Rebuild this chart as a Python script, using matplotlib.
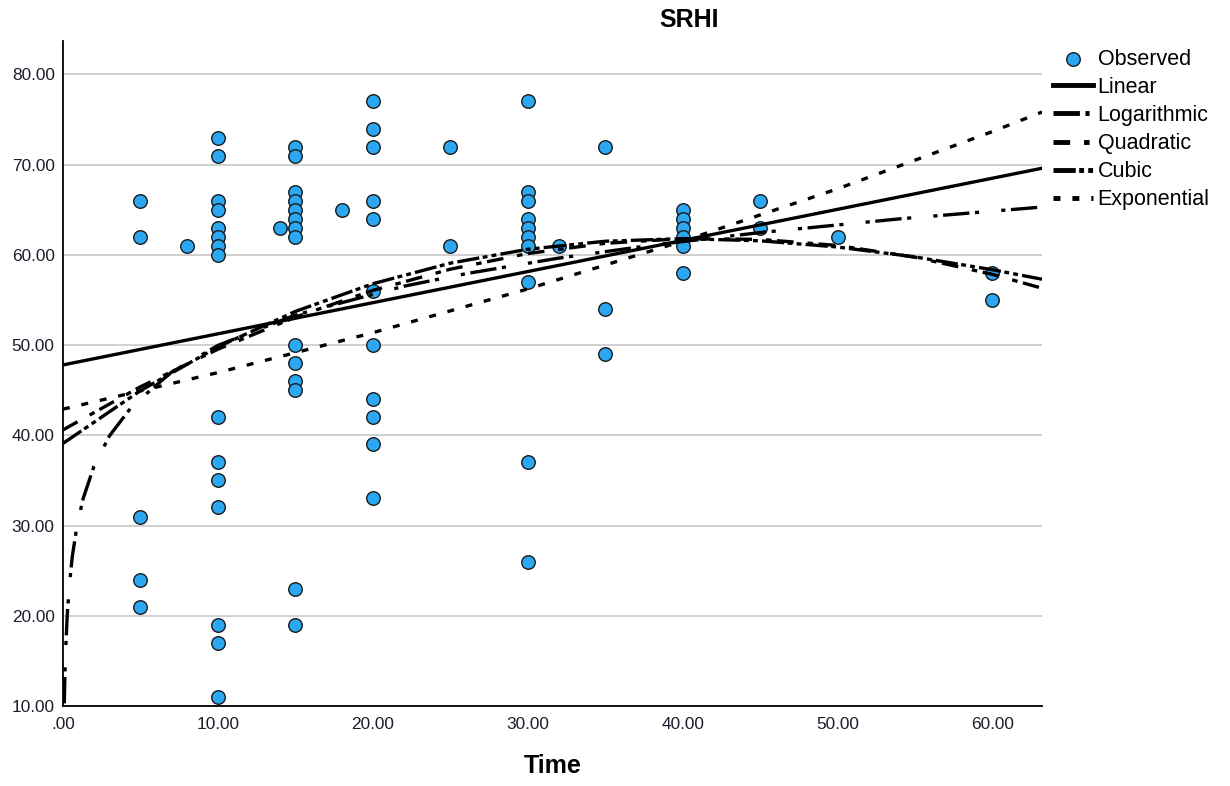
import matplotlib
matplotlib.use("Agg")
import matplotlib.pyplot as plt

plt.rcParams['font.family'] = ['Liberation Sans', 'DejaVu Sans']
plt.rcParams['lines.scale_dashes'] = False

# observed values (Time, SRHI)
obs_time = [5, 5, 5, 5, 5,
            8,
            10, 10, 10, 10, 10, 10, 10, 10, 10, 10, 10, 10, 10, 10, 10,
            14,
            15, 15, 15, 15, 15, 15, 15, 15, 15, 15, 15, 15, 15, 15,
            18,
            20, 20, 20, 20, 20, 20, 20, 20, 20, 20, 20,
            25, 25,
            30, 30, 30, 30, 30, 30, 30, 30, 30, 30,
            32,
            35, 35, 35,
            40, 40, 40, 40, 40, 40,
            45, 45,
            50,
            60, 60]
obs_srhi = [66, 62, 31, 24, 21,
            61,
            73, 71, 66, 65, 63, 62, 61, 60, 42, 37, 35, 32, 19, 17, 11,
            63,
            72, 71, 67, 66, 65, 64, 63, 62, 50, 48, 46, 45, 23, 19,
            65,
            77, 74, 72, 66, 64, 56, 50, 44, 42, 39, 33,
            72, 61,
            77, 67, 66, 64, 63, 62, 61, 57, 37, 26,
            61,
            72, 54, 49,
            65, 64, 63, 62, 61, 58,
            66, 63,
            62,
            58, 55]

# fitted curves
lin_x = [0, 63.2]
lin_y = [47.8, 69.6]

log_x = [0.085, 0.12, 0.18, 0.27, 0.4, 0.6, 0.9, 1.3, 2, 3, 4.5, 7, 10, 15,
         22, 26, 32, 38, 45, 54, 63.2]
log_y = [10.29, 13.16, 16.53, 19.91, 23.18, 26.55, 29.92, 32.98, 36.57, 39.94,
         43.31, 46.99, 49.96, 53.33, 56.52, 57.91, 59.64, 61.07, 62.47, 63.99, 65.30]

fit_x = [0, 5, 10, 15, 20, 25, 30, 35, 40, 45, 50, 55, 60, 63.2]
quad_y = [40.60, 45.38, 49.54, 53.10, 56.06, 58.41, 60.15, 61.28, 61.80, 61.72,
          61.04, 59.74, 57.84, 56.30]
cub_y = [39.10, 44.95, 49.80, 53.73, 56.80, 59.08, 60.62, 61.51, 61.80, 61.56,
         60.87, 59.77, 58.35, 57.30]

exp_x = [0, 10, 20, 30, 40, 50, 60, 63.2]
exp_y = [42.90, 46.95, 51.37, 56.22, 61.52, 67.32, 73.67, 75.83]

y_ticks = [10, 20, 30, 40, 50, 60, 70, 80]
y_labels = ['10.00', '20.00', '30.00', '40.00', '50.00', '60.00', '70.00', '80.00']
x_ticks = [0, 10, 20, 30, 40, 50, 60]
x_labels = ['.00', '10.00', '20.00', '30.00', '40.00', '50.00', '60.00']

fig = plt.figure(figsize=(12.3, 7.86), dpi=100)
ax = fig.add_axes([0.0512, 0.1018, 0.7960, 0.8460])

ax.set_xlim(0, 63.2)
ax.set_ylim(10, 83.7)
ax.yaxis.grid(True, color='#c8c8c8', linewidth=1.2)
ax.set_axisbelow(True)

ax.scatter(obs_time, obs_srhi, s=95, color='#2ca8f2', edgecolor='#1a1a1a',
           linewidth=1.0, zorder=3, label='Observed')

lw = 2.4
ax.plot(lin_x, lin_y, color='black', lw=lw, zorder=4, label='Linear')
ax.plot(log_x, log_y, color='black', lw=lw, zorder=4,
        linestyle=(0, (19, 4, 3, 16, 3, 4)), label='Logarithmic')
ax.plot(fit_x, quad_y, color='black', lw=lw, zorder=4,
        linestyle=(0, (12, 10, 4, 4)), label='Quadratic')
ax.plot(fit_x, cub_y, color='black', lw=lw, zorder=4,
        linestyle=(0, (16, 2.5, 3.5, 3, 3.5, 3)), label='Cubic')
ax.plot(exp_x, exp_y, color='black', lw=lw, zorder=4,
        linestyle=(0, (5, 8.6)), label='Exponential')

ax.set_yticks(y_ticks)
ax.set_yticklabels(y_labels)
ax.set_xticks(x_ticks)
ax.set_xticklabels(x_labels)
ax.tick_params(axis='both', length=0, labelsize=12.4, colors='#1c1c2c')
ax.tick_params(axis='y', pad=6)
ax.tick_params(axis='x', pad=8)

for side in ['top', 'right']:
    ax.spines[side].set_visible(False)
for side in ['left', 'bottom']:
    ax.spines[side].set_linewidth(1.3)
    ax.spines[side].set_color('black')

ax.set_xlabel('Time', fontsize=18, fontweight='bold', labelpad=16)
fig.text(0.56, 0.974, 'SRHI', fontsize=18, fontweight='bold',
         ha='center', va='center')

leg = fig.legend(loc='upper left', bbox_to_anchor=(0.8558, 0.938), frameon=False,
                 fontsize=15.5, borderaxespad=0, borderpad=0, labelspacing=0.33,
                 handlelength=1.86, handletextpad=0.23)
for line in leg.get_lines():
    line.set_linewidth(3.5)

fig.savefig('out.png', dpi=100)
